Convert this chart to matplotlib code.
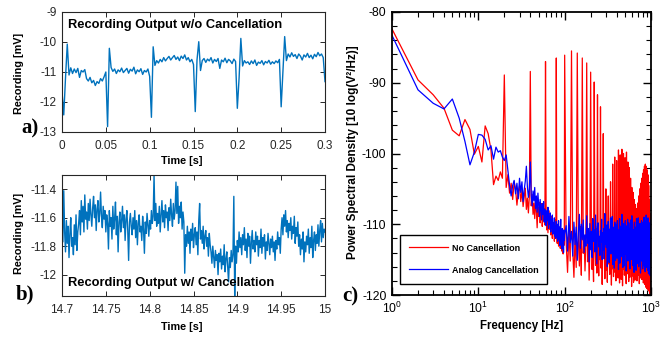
import numpy as np
import matplotlib
matplotlib.use("Agg")
import matplotlib.pyplot as plt
from matplotlib.ticker import MultipleLocator, LogLocator, NullFormatter

plt.rcParams['font.family'] = ['Liberation Sans', 'DejaVu Sans']
plt.rcParams['mathtext.fontset'] = 'custom'
plt.rcParams['mathtext.rm'] = 'Liberation Sans'
plt.rcParams['mathtext.it'] = 'Liberation Sans'
plt.rcParams['axes.unicode_minus'] = False

# ---- panel a : recording without cancellation, 2 ms samples from 0 to 0.3 s
rec_a = [
    -11.66, -12.43, -11.20, -10.07, -11.10, -10.86, -11.05, -10.90, -11.02, -10.88,
    -11.18, -10.95, -11.00, -10.92, -11.22, -11.30, -11.18, -11.36, -11.28, -11.45,
    -11.32, -11.38, -11.22, -11.30, -11.16, -11.00, -12.82, -10.21, -10.85, -10.98,
    -10.90, -11.05, -10.93, -10.99, -10.87, -11.02, -10.95, -10.88, -11.04, -10.91,
    -10.97, -10.84, -11.06, -10.93, -10.99, -10.89, -11.08, -10.95, -11.00, -10.90,
    -11.15, -12.51, -10.16, -10.78, -10.62, -10.70, -10.58, -10.66, -10.52, -10.63,
    -10.55, -10.48, -10.60, -10.52, -10.45, -10.58, -10.50, -10.62, -10.47, -10.55,
    -10.43, -10.60, -10.52, -10.66, -10.58, -10.75, -12.32, -10.60, -9.99, -10.95,
    -10.62, -10.55, -10.68, -10.57, -10.63, -10.52, -10.70, -10.58, -10.65, -10.55,
    -10.88, -10.60, -10.66, -10.54, -10.69, -10.58, -10.63, -10.72, -10.57, -10.65,
    -12.21, -11.20, -9.88, -10.80, -10.62, -10.70, -10.66, -10.75, -10.63, -10.72,
    -10.60, -10.78, -10.67, -10.71, -10.62, -10.76, -10.65, -10.70, -10.61, -10.74,
    -10.66, -10.72, -10.63, -10.69, -10.58, -12.16, -11.00, -9.82, -10.62, -10.40,
    -10.50, -10.36, -10.48, -10.42, -10.55, -10.40, -10.47, -10.60, -10.43, -10.50,
    -10.38, -10.52, -10.44, -10.56, -10.41, -10.49, -10.35, -10.46, -10.40, -10.52,
    -11.32,
]
t_a = np.linspace(0, 0.3, len(rec_a))

# ---- panel b : recording with cancellation, 1 ms samples from 14.7 to 15 s
rec_b = [
    -11.52, -11.77, -11.41, -11.70, -11.84, -11.62, -11.78, -11.66, -11.88, -11.71,
    -11.60, -11.80, -11.74, -11.86, -11.65, -11.79, -11.58, -11.83, -11.70, -11.64,
    -11.55, -11.72, -11.48, -11.63, -11.52, -11.70, -11.44, -11.61, -11.56, -11.68,
    -11.50, -11.62, -11.47, -11.58, -11.66, -11.53, -11.45, -11.60, -11.51, -11.69,
    -11.54, -11.48, -11.63, -11.57, -11.42, -11.59, -11.67, -11.52, -11.61, -11.55,
    -11.70, -11.58, -11.64, -11.82, -11.55, -11.66, -11.60, -11.75, -11.52, -11.68,
    -11.61, -11.49, -11.72, -11.59, -11.84, -11.63, -11.56, -11.70, -11.62, -11.52,
    -11.67, -11.58, -11.76, -11.61, -11.55, -11.69, -11.90, -11.63, -11.57, -11.66,
    -11.72, -11.60, -11.68, -11.55, -11.74, -11.62, -11.79, -11.64, -11.58, -11.70,
    -11.66, -11.76, -11.59, -11.68, -11.85, -11.63, -11.71, -11.57, -11.65, -11.73,
    -11.62, -11.68, -11.55, -11.64, -11.59, -11.30, -11.62, -11.50, -11.66, -11.57,
    -11.64, -11.52, -11.70, -11.58, -11.48, -11.63, -11.55, -11.67, -11.51, -11.60,
    -11.56, -11.69, -11.53, -11.62, -11.47, -11.58, -11.66, -11.50, -11.61, -11.55,
    -11.35, -11.57, -11.38, -11.64, -11.52, -11.60, -11.49, -11.68, -11.56, -11.63,
    -11.99, -11.72, -11.80, -11.66, -11.78, -11.70, -11.85, -11.68, -11.76, -11.64,
    -11.81, -11.72, -11.67, -11.79, -11.70, -11.86, -11.62, -11.50, -11.75, -11.69,
    -11.78, -11.66, -11.82, -11.73, -11.69, -11.80, -11.74, -11.87, -11.71, -11.79,
    -11.84, -11.92, -11.80, -11.88, -11.95, -11.83, -11.90, -11.86, -12.00, -11.85,
    -11.91, -11.82, -11.96, -11.87, -11.93, -11.79, -11.98, -11.89, -11.84, -11.94,
    -12.05, -11.88, -11.95, -11.83, -11.91, -11.86, -11.45, -12.15, -11.80, -11.92,
    -11.76, -11.84, -11.70, -11.81, -11.74, -11.86, -11.72, -11.79, -11.67, -11.83,
    -11.75, -11.88, -11.71, -11.80, -11.73, -11.92, -11.77, -11.69, -11.82, -11.76,
    -11.84, -11.70, -11.79, -11.73, -11.87, -11.76, -11.81, -11.68, -11.85, -11.74,
    -11.80, -11.72, -11.89, -11.77, -11.83, -11.71, -11.78, -11.86, -11.75, -11.81,
    -11.73, -11.84, -11.77, -11.90, -11.76, -11.82, -11.70, -11.79, -11.74, -11.85,
    -11.68, -11.60, -11.72, -11.58, -11.66, -11.55, -11.70, -11.62, -11.74, -11.64,
    -11.69, -11.60, -11.75, -11.66, -11.71, -11.59, -11.78, -11.67, -11.73, -11.63,
    -11.80, -11.72, -11.86, -11.75, -11.82, -11.70, -11.91, -11.77, -11.84, -11.73,
    -11.79, -11.68, -11.85, -11.74, -11.81, -11.66, -11.88, -11.76, -11.70, -11.83,
    -11.72, -11.78, -11.65, -11.80, -11.69, -11.62, -11.77, -11.64, -11.74, -11.68,
    -11.70,
]
t_b = np.linspace(14.7, 15.0, len(rec_b))

# ---- panel c : PSD, 1 Hz bins up to 100 Hz, then 4 Hz bins up to 1 kHz
freq = np.concatenate([np.arange(1, 101), np.arange(104, 1001, 4)])

psd_no_cancel = [
    # 1 - 100 Hz
    -82.4, -89.6, -91.7, -93.6, -96.7, -97.5, -95.2, -96.6, -100.1, -99.0,
    -101.2, -96.1, -97.2, -99.5, -104.4, -103.2, -103.8, -102.6, -103.5, -88.9,
    -104.8, -103.0, -105.6, -104.2, -106.5, -104.0, -105.1, -107.3, -105.4, -104.6,
    -106.8, -105.2, -107.5, -106.1, -104.9, -107.9, -106.3, -108.4, -106.0, -88.4,
    -107.4, -105.8, -108.6, -107.0, -109.2, -106.5, -108.1, -110.5, -107.6, -108.9,
    -106.9, -109.8, -108.2, -107.1, -110.3, -108.7, -109.5, -107.8, -110.1, -87.0,
    -109.0, -110.8, -108.4, -111.2, -109.6, -108.1, -110.7, -109.3, -111.5, -108.9,
    -110.2, -112.0, -109.7, -111.1, -110.0, -112.4, -110.6, -109.4, -111.8, -86.5,
    -110.9, -112.7, -110.3, -111.6, -113.1, -110.5, -112.2, -111.0, -113.4, -110.8,
    -112.9, -111.4, -113.8, -110.7, -112.5, -114.2, -111.3, -113.0, -111.9, -86.1,
    # 104 - 1000 Hz
    -112.5, -116.8, -110.9, -115.2, -85.5,
    -113.7, -117.5, -111.4, -116.1, -85.8,
    -112.0, -115.9, -110.3, -117.2, -86.5,
    -114.1, -111.6, -116.6, -112.8, -87.2,
    -115.3, -110.8, -117.9, -113.2, -88.5,
    -111.9, -116.4, -113.5, -118.1, -89.9,
    -112.7, -115.8, -110.6, -116.9, -91.7,
    -113.9, -117.3, -111.8, -115.0, -93.4,
    -116.2, -112.4, -118.5, -113.6, -97.2,
    -114.8, -111.2, -117.7, -112.9, -105.0,
    -116.5, -113.1, -118.2, -111.7, -106.0,
    -115.6, -112.3, -117.1, -110.9, -104.0,
    -114.4, -118.6, -112.0, -116.3, -101.5,
    -113.2, -117.4, -110.5, -115.9, -100.5,
    -116.8, -111.9, -118.0, -113.5, -101.0,
    -112.6, -116.1, -109.8, -117.6, -99.5,
    -114.9, -111.3, -118.3, -112.7, -100.2,
    -116.0, -112.8, -117.8, -110.4, -99.4,
    -113.4, -118.7, -111.5, -116.4, -100.0,
    -115.1, -110.9, -117.2, -113.8, -100.6,
    -112.2, -116.7, -114.3, -118.4, -99.8,
    -113.6, -110.7, -117.0, -112.5, -101.2,
    -116.9, -113.0, -118.1, -111.1, -102.0,
    -114.2, -117.5, -112.4, -115.8, -103.5,
    -111.8, -116.2, -113.7, -118.8, -104.8,
    -115.4, -112.1, -117.3, -110.8, -105.5,
    -113.3, -118.2, -111.6, -116.5, -106.5,
    -116.1, -112.9, -117.9, -114.0, -107.2,
    -112.3, -115.7, -110.2, -117.1, -107.8,
    -114.6, -118.0, -111.9, -116.8, -107.0,
    -113.1, -117.2, -115.5, -111.4, -106.0,
    -116.3, -112.6, -118.4, -114.7, -105.0,
    -111.7, -115.9, -113.4, -117.6, -104.2,
    -114.9, -110.9, -116.7, -112.8, -103.5,
    -117.8, -113.5, -115.1, -111.3, -102.8,
    -113.0, -116.9, -112.2, -118.3, -102.3,
    -115.7, -111.5, -117.4, -113.9, -101.8,
    -112.4, -118.5, -114.1, -116.0, -101.5,
    -116.6, -112.7, -118.9, -111.0, -101.8,
    -114.3, -117.7, -113.2, -119.1, -102.3,
    -112.9, -116.4, -110.6, -118.6, -103.0,
    -115.9, -119.3, -113.6, -117.0, -104.5,
    -114.0, -118.1, -111.8, -119.5, -106.5,
    -116.7, -119.8, -113.3, -118.4, -108.5,
    -115.2, -119.6, -112.6, -118.9, -110.5,
]

psd_analog = [
    # 1 - 100 Hz
    -83.3, -91.0, -92.9, -93.7, -92.3, -95.0, -98.3, -101.6, -99.8, -97.3,
    -97.4, -98.0, -99.5, -98.9, -100.8, -99.1, -99.8, -99.6, -100.5, -101.0,
    -100.2, -102.4, -104.5, -106.0, -104.5, -103.8, -105.7, -104.2, -106.4, -103.5,
    -105.5, -104.0, -106.8, -105.1, -103.9, -101.8, -104.7, -106.2, -105.0, -101.2,
    -105.9, -107.4, -105.3, -106.7, -104.8, -107.8, -106.0, -108.3, -105.6, -107.2,
    -108.9, -106.5, -108.0, -109.4, -107.1, -108.6, -106.8, -109.7, -107.9, -108.8,
    -110.2, -108.1, -109.5, -107.6, -110.6, -108.9, -110.0, -108.4, -111.1, -109.3,
    -110.5, -108.7, -111.4, -109.8, -110.9, -109.1, -111.7, -110.2, -112.0, -109.6,
    -111.3, -110.0, -112.4, -110.7, -109.5, -112.1, -110.4, -113.0, -110.9, -109.3,
    -112.6, -111.2, -113.5, -110.6, -112.8, -111.0, -114.0, -110.8, -112.3, -111.5,
    # 104 - 1000 Hz
    -110.2, -113.8, -108.9, -112.6, -111.0,
    -114.5, -109.7, -112.9, -110.4, -115.1,
    -111.3, -108.6, -113.4, -110.0, -112.2,
    -109.4, -114.0, -111.5, -113.1, -108.8,
    -112.7, -110.6, -115.3, -109.9, -113.6,
    -111.0, -114.7, -109.2, -112.4, -110.8,
    -113.9, -108.7, -112.1, -115.6, -110.3,
    -109.8, -113.2, -111.7, -114.4, -110.9,
    -112.5, -109.3, -115.0, -111.2, -113.7,
    -110.6, -114.9, -108.5, -112.8, -111.4,
    -113.3, -110.1, -116.0, -111.8, -109.6,
    -112.0, -115.4, -110.7, -113.5, -109.1,
    -114.2, -111.1, -112.9, -108.9, -115.7,
    -110.4, -113.6, -111.9, -116.2, -109.7,
    -112.6, -115.1, -110.0, -113.9, -111.3,
    -114.8, -109.5, -112.3, -110.8, -116.4,
    -111.6, -113.0, -109.2, -115.5, -112.1,
    -110.3, -114.6, -111.4, -113.2, -108.6,
    -113.8, -110.9, -116.1, -112.4, -109.9,
    -112.2, -115.9, -110.5, -114.3, -111.7,
    -109.5, -113.4, -111.0, -116.6, -112.9,
    -114.1, -110.2, -112.7, -109.3, -115.2,
    -111.5, -114.8, -109.8, -113.1, -110.6,
    -113.6, -111.2, -116.3, -112.0, -109.4,
    -110.9, -115.0, -112.5, -114.2, -108.8,
    -112.8, -109.6, -115.8, -111.3, -113.9,
    -114.4, -110.8, -112.1, -116.8, -110.1,
    -109.7, -113.7, -111.6, -115.3, -112.3,
    -113.2, -110.4, -116.5, -112.7, -109.2,
    -111.8, -115.6, -110.3, -113.8, -114.9,
    -110.5, -114.1, -109.1, -112.9, -116.0,
    -113.5, -111.0, -115.4, -110.7, -112.6,
    -109.9, -114.5, -112.2, -116.9, -111.4,
    -112.4, -110.0, -114.7, -109.5, -113.3,
    -115.2, -111.7, -113.0, -110.9, -116.3,
    -111.1, -114.3, -109.7, -113.6, -110.2,
    -113.9, -109.0, -115.9, -112.0, -114.6,
    -110.7, -113.1, -111.8, -116.7, -109.6,
    -112.9, -115.3, -110.1, -114.0, -108.7,
    -111.4, -116.1, -112.6, -109.3, -115.0,
    -113.7, -110.5, -114.8, -111.9, -116.5,
    -109.1, -113.5, -111.2, -117.0, -112.8,
    -114.6, -110.3, -116.4, -109.8, -113.4,
    -111.6, -117.2, -112.0, -115.7, -110.4,
    -113.1, -116.8, -109.4, -117.3, -114.2,
]

W, H = 669, 338
fig = plt.figure(figsize=(W / 100, H / 100), dpi=100)

def box(x0, y0, x1, y1):
    # pixel box (top-left origin) -> figure fraction rect
    return [x0 / W, 1 - y1 / H, (x1 - x0) / W, (y1 - y0) / H]

mat_blue = '#0072BD'
spine_col = '#262626'

def style_time_axes(ax):
    for s in ax.spines.values():
        s.set_color(spine_col)
        s.set_linewidth(0.8)
    ax.tick_params(direction='in', length=3.5, width=0.7, top=True, right=True,
                   labelsize=8.5, colors=spine_col)
    ax.tick_params(axis='x', pad=6)
    ax.tick_params(axis='y', pad=4)

# ---- a
ax1 = fig.add_axes(box(62, 12, 325, 132))
ax1.plot(t_a, rec_a, color=mat_blue, lw=1.0)
ax1.set_xlim(0, 0.3)
ax1.set_ylim(-13, -9)
ax1.set_xticks([0, 0.05, 0.1, 0.15, 0.2, 0.25, 0.3])
ax1.set_xticklabels(['0', '0.05', '0.1', '0.15', '0.2', '0.25', '0.3'])
ax1.set_yticks([-13, -12, -11, -10, -9])
style_time_axes(ax1)
fig.text(182 / W, 1 - 161 / H, 'Time [s]', fontsize=7.8, fontweight='bold',
         ha='center', va='center')
fig.text(19 / W, 1 - 73 / H, 'Recording [mV]', fontsize=7.8, fontweight='bold',
         rotation=90, ha='center', va='center')
ax1.text(0.022, 0.892, 'Recording Output w/o Cancellation', transform=ax1.transAxes,
         fontsize=9.3, fontweight='bold', va='center', ha='left')

# ---- b
ax2 = fig.add_axes(box(62, 175, 325, 296))
ax2.plot(t_b, rec_b, color=mat_blue, lw=1.0)
ax2.set_xlim(14.7, 15.0)
ax2.set_ylim(-12.15, -11.3)
ax2.set_xticks([14.7, 14.75, 14.8, 14.85, 14.9, 14.95, 15.0])
ax2.set_xticklabels(['14.7', '14.75', '14.8', '14.85', '14.9', '14.95', '15'])
ax2.set_yticks([-12, -11.8, -11.6, -11.4])
ax2.set_yticklabels(['-12', '-11.8', '-11.6', '-11.4'])
style_time_axes(ax2)
fig.text(182 / W, 1 - 327 / H, 'Time [s]', fontsize=7.8, fontweight='bold',
         ha='center', va='center')
fig.text(19 / W, 1 - 233 / H, 'Recording [mV]', fontsize=7.8, fontweight='bold',
         rotation=90, ha='center', va='center')
ax2.text(0.022, 0.107, 'Recording Output w/ Cancellation', transform=ax2.transAxes,
         fontsize=9.3, fontweight='bold', va='center', ha='left')

# ---- c
ax3 = fig.add_axes(box(392, 12, 651, 295))
ax3.semilogx(freq, psd_no_cancel, color='#FF0000', lw=0.9, label='No Cancellation')
ax3.semilogx(freq, psd_analog, color='#0000FF', lw=0.9, label='Analog Cancellation')
ax3.set_xlim(1, 1000)
ax3.set_ylim(-120, -80)
ax3.yaxis.set_major_locator(MultipleLocator(10))
ax3.yaxis.set_minor_locator(MultipleLocator(2))
ax3.xaxis.set_major_locator(LogLocator(base=10, numticks=10))
ax3.xaxis.set_minor_locator(LogLocator(base=10, subs=np.arange(2, 10), numticks=10))
ax3.xaxis.set_minor_formatter(NullFormatter())
for s in ax3.spines.values():
    s.set_linewidth(1.3)
ax3.tick_params(which='both', direction='in', top=True, right=True, labelsize=8.8)
ax3.tick_params(which='major', length=6, width=1.0)
ax3.tick_params(which='minor', length=3.5, width=0.8)
ax3.tick_params(axis='y', pad=4)
ax3.tick_params(axis='x', pad=4)
fig.text(522 / W, 1 - 326 / H, 'Frequency [Hz]', fontsize=8.3, fontweight='bold',
         ha='center', va='center')
fig.text(353 / W, 1 - 152 / H, 'Power Spectral Density [10 log(V\u00b2/Hz)]',
         fontsize=8.5, fontweight='bold', rotation=90, ha='center', va='center')
leg = ax3.legend(loc='lower left', bbox_to_anchor=(0.03, 0.04),
                 prop={'weight': 'bold', 'size': 6.5}, frameon=True, fancybox=False,
                 edgecolor='black', framealpha=1, handlelength=4.3, labelspacing=1.45,
                 borderpad=1.0, handletextpad=0.45, borderaxespad=0)
leg.get_frame().set_linewidth(1.0)

# panel letters
fig.text(30 / W, 1 - 128 / H, 'a)', fontsize=15, fontweight='bold',
         family='Liberation Serif', ha='center', va='center')
fig.text(25 / W, 1 - 294 / H, 'b)', fontsize=15, fontweight='bold',
         family='Liberation Serif', ha='center', va='center')
fig.text(350 / W, 1 - 296 / H, 'c)', fontsize=15, fontweight='bold',
         family='Liberation Serif', ha='center', va='center')

fig.savefig('out.png', dpi=100)
